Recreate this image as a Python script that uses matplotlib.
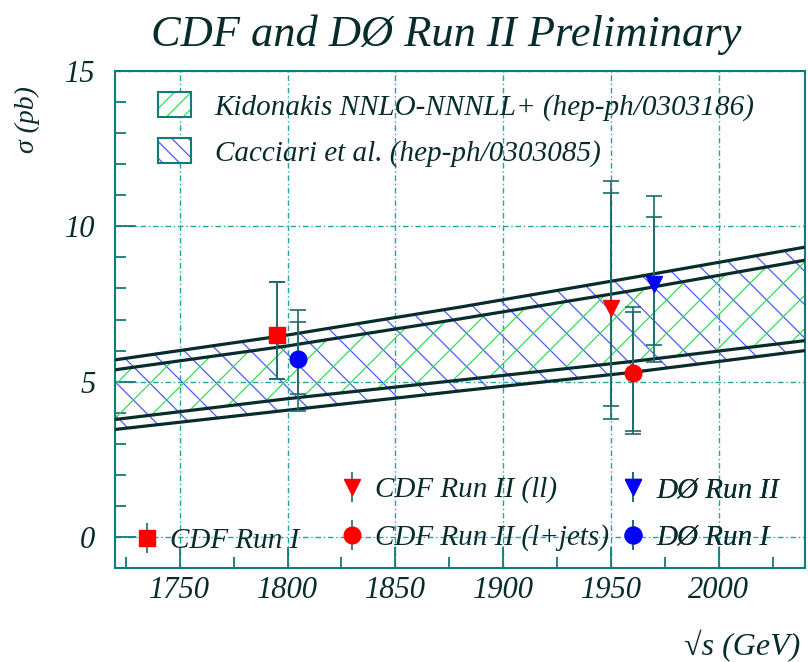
import matplotlib
matplotlib.use('Agg')
import matplotlib.pyplot as plt
from matplotlib.lines import Line2D
from matplotlib.patches import Patch
from matplotlib.ticker import MultipleLocator

# theory bands: sigma (pb) vs sqrt(s) (GeV)
band_x = [1720, 1800, 1880, 1960, 2040]
cacciari_hi = [5.70, 6.50, 7.40, 8.35, 9.33]
cacciari_lo = [3.46, 4.08, 4.70, 5.30, 6.00]
kidonakis_hi = [5.38, 6.15, 7.02, 7.93, 8.91]
kidonakis_lo = [3.78, 4.45, 5.05, 5.65, 6.32]

# measurements
meas_names = ['CDF Run I', 'DØ Run I', 'CDF Run II (ll)', 'CDF Run II (l+jets)', 'DØ Run II']
meas_x = [1795, 1805, 1950, 1960, 1970]
meas_y = [6.50, 5.74, 7.37, 5.29, 8.14]
stat_lo = [5.10, 4.60, 4.20, 3.40, 6.19]
stat_hi = [8.20, 6.92, 11.06, 7.25, 10.29]
tot_lo = [5.10, 4.07, 3.81, 3.30, 5.64]
tot_hi = [8.20, 7.31, 11.47, 7.40, 10.99]

meas_marker = ['s', 'o', 'v', 'o', 'v']
meas_color = ['#ff0000', '#0000ff', '#ff0000', '#ff0000', '#0000ff']

teal = '#137a7a'
ink = '#082c2c'
serif = ['Liberation Serif', 'DejaVu Serif']

plt.rcParams['font.family'] = serif
plt.rcParams['font.style'] = 'italic'
plt.rcParams['hatch.linewidth'] = 0.9

fig = plt.figure(figsize=(8.08, 6.62), dpi=100)
ax = fig.add_axes([115/808, 1-568/662, 690/808, 497/662])

# bands
ax.fill_between(band_x, cacciari_lo, cacciari_hi, facecolor='none', edgecolor='#4a5cff',
                hatch='\\', linewidth=0, zorder=2)
ax.fill_between(band_x, kidonakis_lo, kidonakis_hi, facecolor='none', edgecolor='#33dd55',
                hatch='/', linewidth=0, zorder=2)
for b in [cacciari_hi, cacciari_lo, kidonakis_hi, kidonakis_lo]:
    ax.plot(band_x, b, color=ink, lw=2.3, zorder=3)

# data points
ebar = '#1d6b6b'
for i in range(len(meas_x)):
    y = meas_y[i]
    ax.errorbar([meas_x[i]], [y], yerr=[[y - tot_lo[i]], [tot_hi[i] - y]], fmt='none',
                ecolor=ebar, elinewidth=1.2, capsize=6, capthick=1.2, zorder=4)
    ax.errorbar([meas_x[i]], [y], yerr=[[y - stat_lo[i]], [stat_hi[i] - y]], fmt='none',
                ecolor=ebar, elinewidth=1.2, capsize=6, capthick=1.2, zorder=4)
    ax.plot([meas_x[i]], [y], marker=meas_marker[i], color=meas_color[i], markersize=12,
            linestyle='none', zorder=5)

ax.set_xlim(1720, 2040)
ax.set_ylim(-1, 15)
ax.xaxis.set_major_locator(MultipleLocator(50))
ax.xaxis.set_minor_locator(MultipleLocator(25))
ax.yaxis.set_major_locator(MultipleLocator(5))
ax.yaxis.set_minor_locator(MultipleLocator(1))
ax.tick_params(which='both', direction='in', color=teal, width=1.3, labelcolor=ink, labelsize=22)
ax.tick_params(which='major', length=15)
ax.tick_params(which='minor', length=8)
ax.tick_params(axis='x', pad=6)
ax.tick_params(axis='y', pad=14)
for s in ax.spines.values():
    s.set_color(teal)
    s.set_linewidth(1.5)
ax.grid(True, which='major', color='#22a5a5', lw=1.0, linestyle=(0, (4, 2, 1, 2)))
ax.set_axisbelow(True)

# theory legend
leg_hatch = []
for col, h in [('#33dd55', '//'), ('#4a5cff', '\\\\')]:
    leg_hatch.append((Patch(facecolor='white', edgecolor=col, hatch=h, linewidth=0),
                      Patch(facecolor='none', edgecolor=teal, linewidth=1.5)))
leg1 = ax.legend(leg_hatch, ['Kidonakis NNLO-NNNLL+ (hep-ph/0303186)',
                             'Cacciari et al. (hep-ph/0303085)'],
                 loc='upper left', bbox_to_anchor=(0.062, 0.957), frameon=False,
                 fontsize=21, handlelength=1.15, handleheight=0.9, handletextpad=0.8,
                 labelspacing=0.6, borderpad=0, borderaxespad=0, labelcolor=ink)
ax.add_artist(leg1)

# measurement legend, three columns
def meas_handle(i):
    bar = Line2D([], [], marker='|', markersize=22, color=ebar, linestyle='none', markeredgewidth=1.2)
    dot = Line2D([], [], marker=meas_marker[i], markersize=12, color=meas_color[i], linestyle='none')
    return (bar, dot)

cols = [([0], (0.0254, 0.054)), ([2, 3], (0.3225, 0.1087)), ([4, 1], (0.7297, 0.1087))]
for idx, anchor in cols:
    lg = ax.legend([meas_handle(i) for i in idx], [meas_names[i] for i in idx],
                   loc='center left', bbox_to_anchor=anchor, frameon=False, fontsize=21,
                   handlelength=1.0, handletextpad=0.3, labelspacing=0.72,
                   borderpad=0, borderaxespad=0, labelcolor=ink)
    ax.add_artist(lg)

fig.text(446/808, 1-35/662, 'CDF and DØ Run II Preliminary', fontsize=32, color=ink,
         ha='center', va='center')
fig.text(27/808, 1-120/662, 'σ (pb)', fontsize=20, color=ink, rotation=90,
         ha='center', va='center')
fig.text(800/808, 1-646/662, '√s (GeV)', fontsize=23, color=ink, ha='right', va='center')

fig.savefig('out.png', dpi=100)
